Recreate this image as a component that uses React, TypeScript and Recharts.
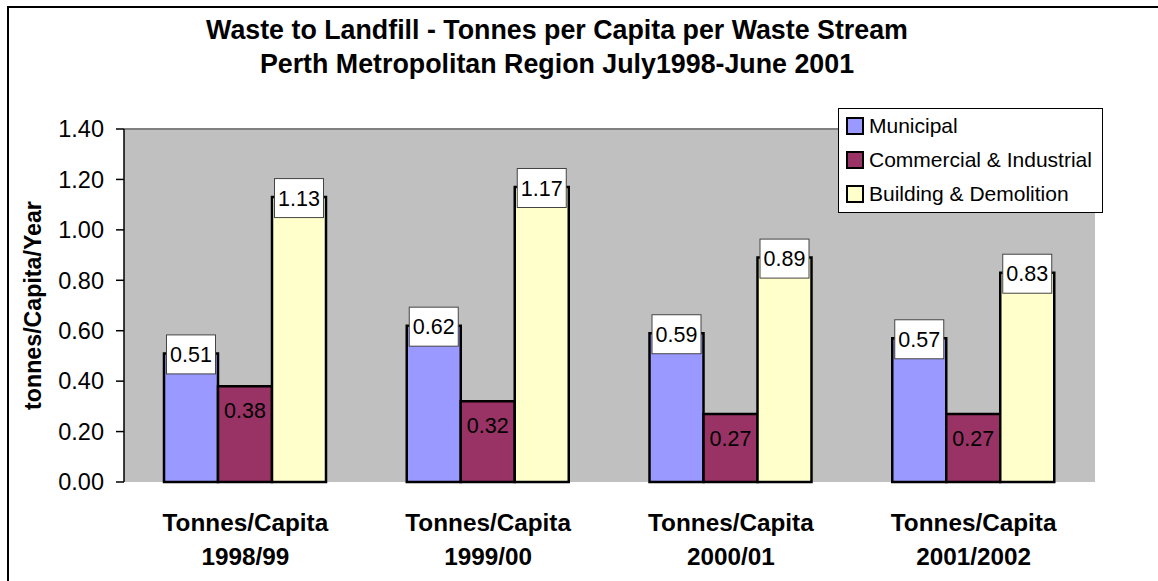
import { BarChart, Bar, XAxis, YAxis, CartesianGrid, LabelList, ReferenceLine } from 'recharts';

const YEARS = ['1998/99', '1999/00', '2000/01', '2001/2002'];
const MUNICIPAL = [0.51, 0.62, 0.59, 0.57];
const COMMERCIAL = [0.38, 0.32, 0.27, 0.27];
const BUILDING = [1.13, 1.17, 0.89, 0.83];
const Y_TICKS = [0, 0.2, 0.4, 0.6, 0.8, 1.0, 1.2, 1.4];
const EDGE_TICKS = [0, 1, 2, 3, 4];

const SERIES = [
  { key: 'municipal', name: 'Municipal', color: '#9999FF' },
  { key: 'commercial', name: 'Commercial & Industrial', color: '#993366' },
  { key: 'building', name: 'Building & Demolition', color: '#FFFFCC' },
];

const FONT = "'Liberation Sans', Arial, sans-serif";

const data = YEARS.map((year, i) => ({
  year,
  municipal: MUNICIPAL[i],
  commercial: COMMERCIAL[i],
  building: BUILDING[i],
}));

// boxed label sitting on the top of the bar
function BoxLabel(props: any) {
  const { x, y, width, value } = props;
  const cx = x + width / 2;
  const w = 49;
  const h = 39;
  return (
    <g>
      <rect x={cx - w / 2} y={y - h / 2 + 1} width={w} height={h} fill="#fff" stroke="#444" strokeWidth={1} />
      <text x={cx} y={y + 1} dy="0.36em" textAnchor="middle" fontSize={21.5} fontFamily={FONT} fill="#000">
        {Number(value).toFixed(2)}
      </text>
    </g>
  );
}

// plain label inside the bar, below its top
function InsideLabel(props: any) {
  const { x, y, width, value } = props;
  return (
    <text x={x + width / 2} y={y + 24} dy="0.36em" textAnchor="middle" fontSize={21.5} fontFamily={FONT} fill="#000">
      {Number(value).toFixed(2)}
    </text>
  );
}

function YearTick(props: any) {
  const { x, y, payload } = props;
  return (
    <g>
      <text x={x} y={y + 49} textAnchor="middle" fontSize={24.3} fontWeight="bold" fontFamily={FONT} fill="#000">
        Tonnes/Capita
      </text>
      <text x={x} y={y + 83} textAnchor="middle" fontSize={24.3} fontWeight="bold" fontFamily={FONT} fill="#000">
        {payload.value}
      </text>
    </g>
  );
}

function YLabel(props: any) {
  const { viewBox } = props;
  const cy = viewBox.y + viewBox.height / 2;
  return (
    <text
      x={33}
      y={cy}
      transform={`rotate(-90 33 ${cy})`}
      textAnchor="middle"
      dy="0.36em"
      fontSize={23.2}
      fontWeight="bold"
      fontFamily={FONT}
      fill="#000"
    >
      tonnes/Capita/Year
    </text>
  );
}

function LegendBox() {
  return (
    <div
      style={{
        position: 'absolute',
        left: 838,
        top: 108,
        width: 265,
        height: 105,
        background: '#fff',
        border: '1.5px solid #000',
        fontFamily: FONT,
        fontSize: 21,
        boxSizing: 'border-box',
        paddingTop: 0,
      }}
    >
      {SERIES.map((s) => (
        <div key={s.key} style={{ display: 'flex', alignItems: 'center', height: 35, paddingLeft: 7, marginTop: -1 }}>
          <span
            style={{
              display: 'inline-block',
              width: 14,
              height: 14,
              background: s.color,
              border: '2px solid #000',
              marginRight: 5,
            }}
          />
          <span>{s.name}</span>
        </div>
      ))}
    </div>
  );
}

export default function App() {
  return (
    <div style={{ position: 'absolute', left: 0, top: 0, width: 1158, height: 581, overflow: 'hidden', background: '#fff' }}>
      <div
        style={{
          position: 'absolute',
          left: 7,
          top: 6,
          width: 1200,
          height: 640,
          border: '2px solid #000',
        }}
      />
      <div
        style={{
          position: 'absolute',
          left: 0,
          top: 13,
          width: 1114,
          textAlign: 'center',
          fontFamily: FONT,
          fontWeight: 'bold',
          fontSize: 26.8,
          lineHeight: '34px',
          color: '#000',
        }}
      >
        <div>Waste to Landfill - Tonnes per Capita per Waste Stream</div>
        <div>Perth Metropolitan Region July1998-June 2001</div>
      </div>
      <div style={{ position: 'absolute', left: 0, top: 0 }}>
        <BarChart
          width={1158}
          height={581}
          data={data}
          margin={{ top: 129, right: 63, bottom: 0, left: 0 }}
          barCategoryGap={40}
          barGap={0}
        >
          <CartesianGrid fill="#C0C0C0" horizontal={false} vertical={false} />
          <XAxis
            xAxisId="edge"
            type="number"
            domain={[0, 4]}
            ticks={EDGE_TICKS}
            height={0}
            tickSize={8}
            tickFormatter={() => ''}
            axisLine={{ stroke: '#000', strokeWidth: 1.5 }}
            tickLine={{ stroke: '#000', strokeWidth: 1.5 }}
          />
          <XAxis
            xAxisId="cat"
            dataKey="year"
            height={99}
            axisLine={false}
            tickLine={false}
            tickSize={0}
            tickMargin={0}
            interval={0}
            tick={<YearTick />}
          />
          <YAxis
            width={124}
            domain={[0, 1.4]}
            ticks={Y_TICKS}
            interval={0}
            tickSize={8}
            tickMargin={12}
            tickFormatter={(v: number) => v.toFixed(2)}
            tick={{ fill: '#000', fontSize: 23.5, fontFamily: FONT }}
            axisLine={{ stroke: '#000', strokeWidth: 1.5 }}
            tickLine={{ stroke: '#000', strokeWidth: 1.5 }}
            label={<YLabel />}
          />
          <ReferenceLine xAxisId="cat" y={1.4} stroke="#808080" strokeWidth={2} />
          <ReferenceLine xAxisId="edge" x={4} stroke="#808080" strokeWidth={2} />
          {SERIES.map((s) => (
            <Bar
              key={s.key}
              xAxisId="cat"
              dataKey={s.key}
              name={s.name}
              fill={s.color}
              stroke="#000"
              strokeWidth={2.5}
              isAnimationActive={false}
            >
              <LabelList dataKey={s.key} content={s.key === 'commercial' ? <InsideLabel /> : <BoxLabel />} />
            </Bar>
          ))}
        </BarChart>
      </div>
      <LegendBox />
    </div>
  );
}
